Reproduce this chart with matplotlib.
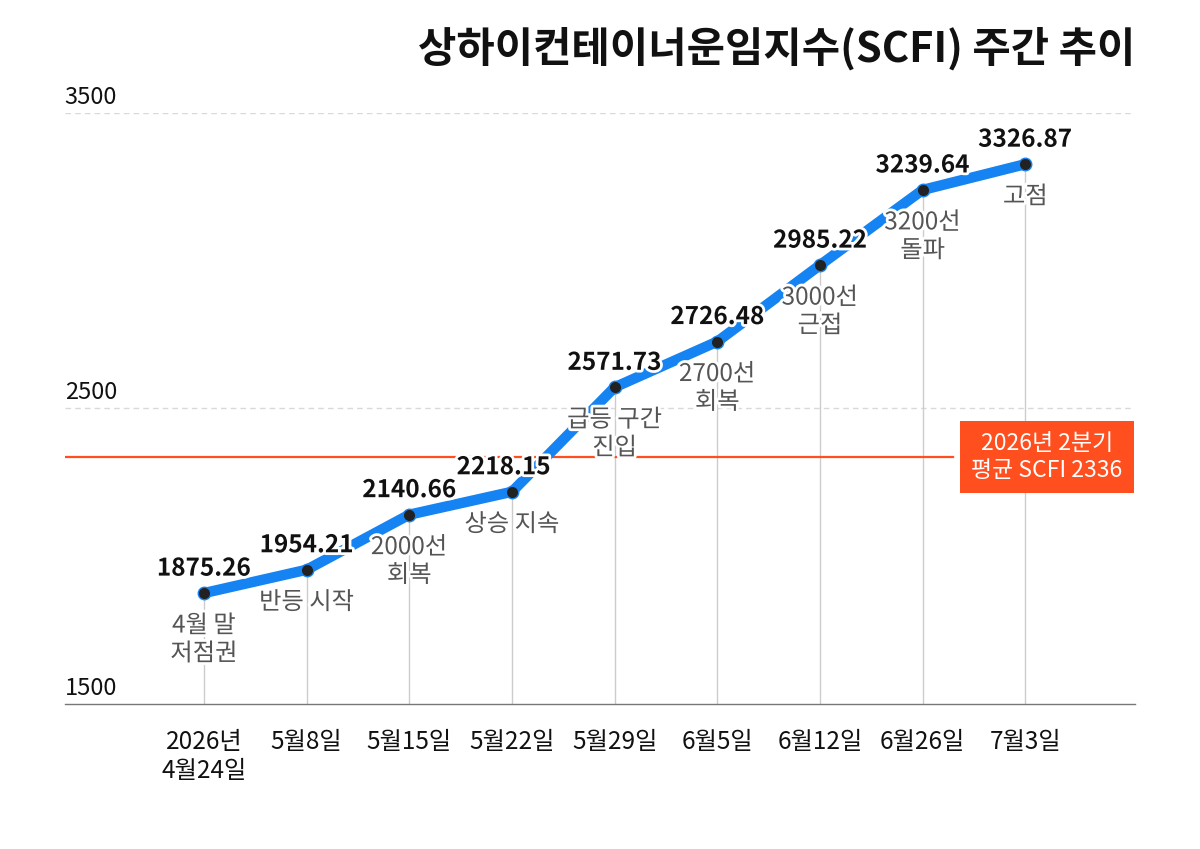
import matplotlib
matplotlib.use("Agg")
import matplotlib.pyplot as plt
import matplotlib.patheffects as pe

plt.rcParams['font.family'] = ['Noto Sans CJK KR', 'DejaVu Sans']

# data
dates = ['2026년\n4월24일', '5월8일', '5월15일', '5월22일', '5월29일',
         '6월5일', '6월12일', '6월26일', '7월3일']
scfi = [1875.26, 1954.21, 2140.66, 2218.15, 2571.73, 2726.48, 2985.22, 3239.64, 3326.87]
notes = ['4월 말\n저점권', '반등 시작', '2000선\n회복', '상승 지속', '급등 구간\n진입',
         '2700선\n회복', '3000선\n근접', '3200선\n돌파', '고점']
q2_avg = 2336
yticks = [1500, 2500, 3500]

blue = '#1683f2'
orange = '#ff4f1f'
halo = [pe.withStroke(linewidth=4, foreground='white')]

fig = plt.figure(figsize=(12, 8.49), dpi=100)
ax = fig.add_axes([0.054, 0.1708, 0.892, 0.6961])
x = list(range(len(scfi)))

ax.set_xlim(-1.355, 9.07)
ax.set_ylim(1500, 3500)

# grid lines + y labels sitting above them
for t in yticks[1:]:
    ax.axhline(t, color='#d9d9d9', lw=1, ls=(0, (4, 3)), zorder=0)
for t in yticks:
    ax.annotate(str(t), xy=(0, t), xycoords=('axes fraction', 'data'),
                xytext=(0, 3), textcoords='offset points',
                ha='left', va='bottom', fontsize=17, color='#111')

# drop lines
for xi, v in zip(x, scfi):
    ax.plot([xi, xi], [1500, v], color='#cccccc', lw=1, zorder=1)

# quarter average
ax.plot([-1.355, 7.3], [q2_avg, q2_avg], color=orange, lw=1.6, zorder=1)
ax.text(8.21, q2_avg, '2026년 2분기\n평균 SCFI 2336', ha='center', va='center',
        fontsize=16.5, color='white', linespacing=1.2, zorder=5,
        bbox=dict(boxstyle='square,pad=0.5', facecolor=orange, edgecolor='none'))

ax.plot(x, scfi, color=blue, lw=7.5, solid_capstyle='round', zorder=3)
ax.plot(x, scfi, 'o', ms=9, color='#222222', mec=blue, mew=1, zorder=4)

for xi, v, n in zip(x, scfi, notes):
    dx = -6 if xi == 3 else 0
    ax.annotate(f'{v:.2f}', xy=(xi, v), xytext=(dx, 9), textcoords='offset points',
                ha='center', va='bottom', fontsize=17.5, fontweight='bold',
                color='#111', path_effects=halo, zorder=6)
    ax.annotate(n, xy=(xi, v), xytext=(0, -14), textcoords='offset points',
                ha='center', va='top', fontsize=17.5, color='#555555',
                linespacing=1.1, path_effects=halo, zorder=6)

ax.set_xticks(x)
ax.set_xticklabels(dates, fontsize=17.5, color='#111', linespacing=1.15)
ax.tick_params(axis='x', length=0, pad=18)
ax.set_yticks([])
for s in ['top', 'left', 'right']:
    ax.spines[s].set_visible(False)
ax.spines['bottom'].set_color('#777777')
ax.spines['bottom'].set_linewidth(1)

fig.text(0.946, 0.943, '상하이컨테이너운임지수(SCFI) 주간 추이', ha='right', va='center',
         fontsize=30, fontweight='bold', color='#111')

fig.savefig('out.png', dpi=100, facecolor='white')
